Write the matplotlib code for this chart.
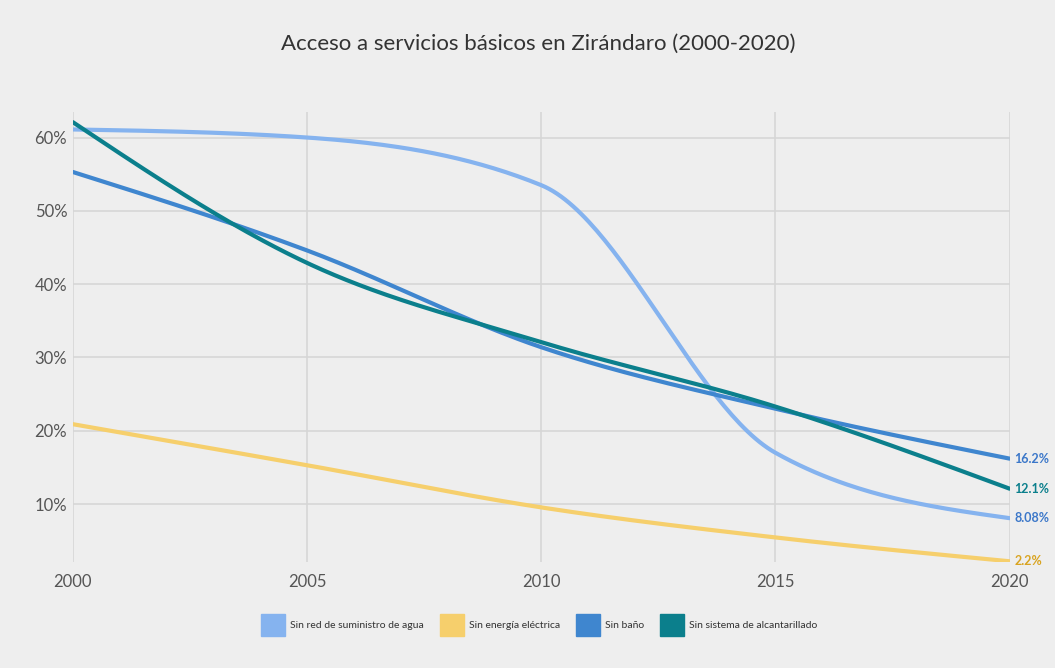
import numpy as np
import matplotlib
matplotlib.use("Agg")
import matplotlib.pyplot as plt
from matplotlib.patches import Patch

# datos
years = [2000, 2005, 2010, 2015, 2020]
agua = [61.1, 60.0, 53.5, 17.0, 8.08]
electrica = [20.9, 15.3, 9.55, 5.45, 2.2]
bano = [55.3, 44.6, 31.4, 23.0, 16.2]
alcantarillado = [62.1, 42.9, 32.1, 23.3, 12.1]

labels = ["Sin red de suministro de agua", "Sin energía eléctrica", "Sin baño", "Sin sistema de alcantarillado"]
end_labels = ["8.08%", "2.2%", "16.2%", "12.1%"]
colors = ["#85b3ef", "#f6cf6c", "#3f86cf", "#0b7f8c"]
label_colors = ["#3b77c9", "#d9a421", "#3b77c9", "#0b7f8c"]

plt.rcParams['font.family'] = ['Lato', 'DejaVu Sans']


def spline(x, y, n=60):
    # monotone kurve wie d3 curveMonotoneX, nur zum zeichnen
    x = np.asarray(x, float)
    y = np.asarray(y, float)
    h = np.diff(x)
    s = np.diff(y) / h
    m = np.zeros_like(y)
    for i in range(1, len(y) - 1):
        p = (s[i - 1] * h[i] + s[i] * h[i - 1]) / (h[i - 1] + h[i])
        m[i] = (np.sign(s[i - 1]) + np.sign(s[i])) * min(abs(s[i - 1]), abs(s[i]), 0.5 * abs(p))
    m[0] = (3 * s[0] - m[1]) / 2
    m[-1] = (3 * s[-1] - m[-2]) / 2
    t = np.linspace(0, 1, n)
    xs, ys = [], []
    for i in range(len(x) - 1):
        h00 = 2 * t**3 - 3 * t**2 + 1
        h10 = t**3 - 2 * t**2 + t
        h01 = -2 * t**3 + 3 * t**2
        h11 = t**3 - t**2
        xs.append(x[i] + t * h[i])
        ys.append(h00 * y[i] + h10 * h[i] * m[i] + h01 * y[i + 1] + h11 * h[i] * m[i + 1])
    return np.concatenate(xs), np.concatenate(ys)


bg = "#eeeeee"
fig = plt.figure(figsize=(10.55, 6.68), dpi=100, facecolor=bg)
ax = fig.add_axes([0.069, 0.159, 0.888, 0.673], facecolor=bg)

series = [agua, electrica, bano, alcantarillado]
for vals, c, lc, lab in zip(series, colors, label_colors, end_labels):
    xs, ys = spline(years, vals)
    ax.plot(xs, ys, color=c, lw=3, solid_capstyle='round', zorder=3)
    ax.text(2020.1, vals[-1], lab, color=lc, fontsize=9, fontweight='bold',
            va='center', ha='left', clip_on=False)

ax.set_xlim(2000, 2020)
ax.set_ylim(2.13, 63.45)
ax.set_xticks(years)
ax.set_yticks([10, 20, 30, 40, 50, 60])
ax.set_yticklabels([f"{v}%" for v in [10, 20, 30, 40, 50, 60]])
ax.grid(True, color="#d6d6d6", lw=1.2)
ax.set_axisbelow(True)
for s in ax.spines.values():
    s.set_visible(False)
ax.tick_params(length=0, labelsize=12, colors="#555555", pad=4)
ax.tick_params(axis='x', pad=9)

fig.text(0.51, 0.935, "Acceso a servicios básicos en Zirándaro (2000-2020)",
         ha='center', va='center', fontsize=16, color="#333333")

handles = [Patch(facecolor=c, edgecolor=c) for c in colors]
fig.legend(handles, labels, loc='center', bbox_to_anchor=(0.511, 0.064), ncol=4,
           frameon=False, fontsize=7.5, handlelength=2.3, handleheight=2.9,
           columnspacing=1.5, handletextpad=0.5, labelcolor="#333333")

fig.savefig("out.png", dpi=100, facecolor=bg)
